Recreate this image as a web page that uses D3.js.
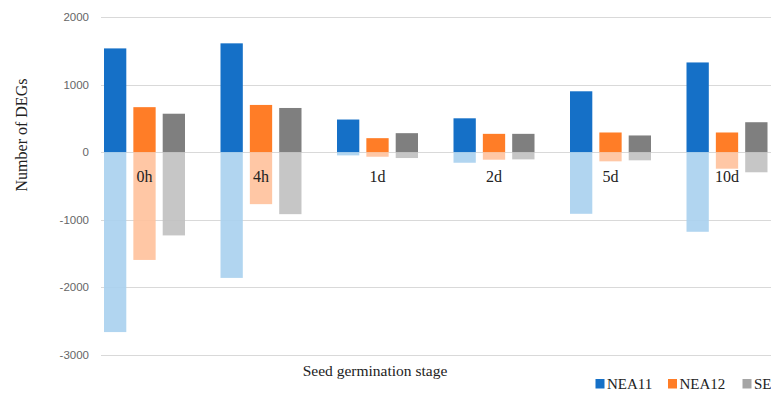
<!DOCTYPE html>
<html>
<head>
<meta charset="utf-8">
<script src="https://cdn.jsdelivr.net/npm/d3@7"></script>
<style>
  html, body { margin: 0; padding: 0; background: #fff; overflow: hidden; }
  svg { display: block; }
</style>
</head>
<body>
<svg id="chart" width="771" height="394"></svg>
<script>
// Germination stages and series
const stages = ["0h", "4h", "1d", "2d", "5d", "10d"];
const series = ["NEA11", "NEA12", "SE"];

// Up-regulated DEG counts per series (one value per stage)
const upNEA11 = [1535, 1610, 482, 500, 900, 1327];
const upNEA12 = [665, 698, 206, 270, 290, 290];
const upSE    = [568, 653, 280, 270, 246, 442];

// Down-regulated DEG counts per series (negative values)
const downNEA11 = [-2665, -1863, -49, -158, -914, -1180];
const downNEA12 = [-1597, -771, -69, -113, -137, -246];
const downSE    = [-1234, -919, -88, -108, -122, -299];

const yTicks = [-3000, -2000, -1000, 0, 1000, 2000];

const upValues = { NEA11: upNEA11, NEA12: upNEA12, SE: upSE };
const downValues = { NEA11: downNEA11, NEA12: downNEA12, SE: downSE };

const darkColor = { NEA11: "#1570c7", NEA12: "#ff7d27", SE: "#7f7f7f" };
const lightColor = { NEA11: "#a9d0ee", NEA12: "#ffc19b", SE: "#c0c0c0" };

const svg = d3.select("#chart");

const plotLeft = 101, plotRight = 800;
const y = d3.scaleLinear().domain([-3000, 2000]).range([354.7, 17]);

const x0 = d3.scaleBand().domain(stages).range([86.25, 86.25 + 6 * 116.5]).padding(0);
const x1 = d3.scaleBand().domain(series).range([17.75, 116.5 - 17.75]).paddingInner(0.24).paddingOuter(0);

// Horizontal gridlines
svg.append("g")
  .selectAll("line")
  .data(yTicks)
  .join("line")
  .attr("x1", plotLeft).attr("x2", plotRight)
  .attr("y1", d => Math.round(y(d)) + 0.5)
  .attr("y2", d => Math.round(y(d)) + 0.5)
  .attr("stroke", "#d9d9d9")
  .attr("stroke-width", 1);

// Y-axis tick labels (plain hyphen for negatives)
const yAxis = d3.axisLeft(y).tickValues(yTicks).tickSize(0).tickPadding(0).tickFormat(d => String(d));
const yg = svg.append("g").attr("transform", "translate(89,0)").call(yAxis);
yg.select(".domain").remove();
yg.selectAll("text")
  .attr("fill", "#666")
  .style("font-family", "'Liberation Sans', Arial, sans-serif")
  .style("font-size", "11.5px");

// Bars
const groups = svg.append("g")
  .selectAll("g")
  .data(stages)
  .join("g")
  .attr("transform", d => `translate(${x0(d)},0)`);

groups.selectAll("rect.down")
  .data((d, i) => series.map(s => ({ s, v: downValues[s][i] })))
  .join("rect")
  .attr("class", "down")
  .attr("x", d => x1(d.s))
  .attr("width", x1.bandwidth())
  .attr("y", y(0))
  .attr("height", d => y(d.v) - y(0))
  .attr("fill", d => lightColor[d.s])
  .attr("fill-opacity", 0.9);

groups.selectAll("rect.up")
  .data((d, i) => series.map(s => ({ s, v: upValues[s][i] })))
  .join("rect")
  .attr("class", "up")
  .attr("x", d => x1(d.s))
  .attr("width", x1.bandwidth())
  .attr("y", d => y(d.v))
  .attr("height", d => y(0) - y(d.v))
  .attr("fill", d => darkColor[d.s]);

// Stage labels inside the plot
svg.append("g")
  .selectAll("text")
  .data(stages)
  .join("text")
  .attr("x", d => x0(d) + x0.bandwidth() / 2)
  .attr("y", 182)
  .attr("text-anchor", "middle")
  .attr("fill", "#222")
  .style("font-family", "'Liberation Serif', 'Times New Roman', serif")
  .style("font-size", "16px")
  .text(d => d);

// Axis titles
svg.append("text")
  .attr("transform", "translate(27,135) rotate(-90)")
  .attr("text-anchor", "middle")
  .attr("fill", "#222")
  .style("font-family", "'Liberation Serif', 'Times New Roman', serif")
  .style("font-size", "16px")
  .text("Number of DEGs");

svg.append("text")
  .attr("x", 375)
  .attr("y", 376)
  .attr("text-anchor", "middle")
  .attr("fill", "#222")
  .style("font-family", "'Liberation Serif', 'Times New Roman', serif")
  .style("font-size", "15.5px")
  .text("Seed germination stage");

// Legend
const legendX = [595.5, 668, 742.5];
const legend = svg.append("g")
  .selectAll("g")
  .data(series)
  .join("g")
  .attr("transform", (d, i) => `translate(${legendX[i]},379)`);
legend.append("rect")
  .attr("width", 9).attr("height", 9.5)
  .attr("fill", d => d === "SE" ? "#a5a5a5" : darkColor[d]);
legend.append("text")
  .attr("x", 11.5)
  .attr("y", 10)
  .attr("fill", "#222")
  .style("font-family", "'Liberation Serif', 'Times New Roman', serif")
  .style("font-size", "15px")
  .text(d => d);
</script>
</body>
</html>
